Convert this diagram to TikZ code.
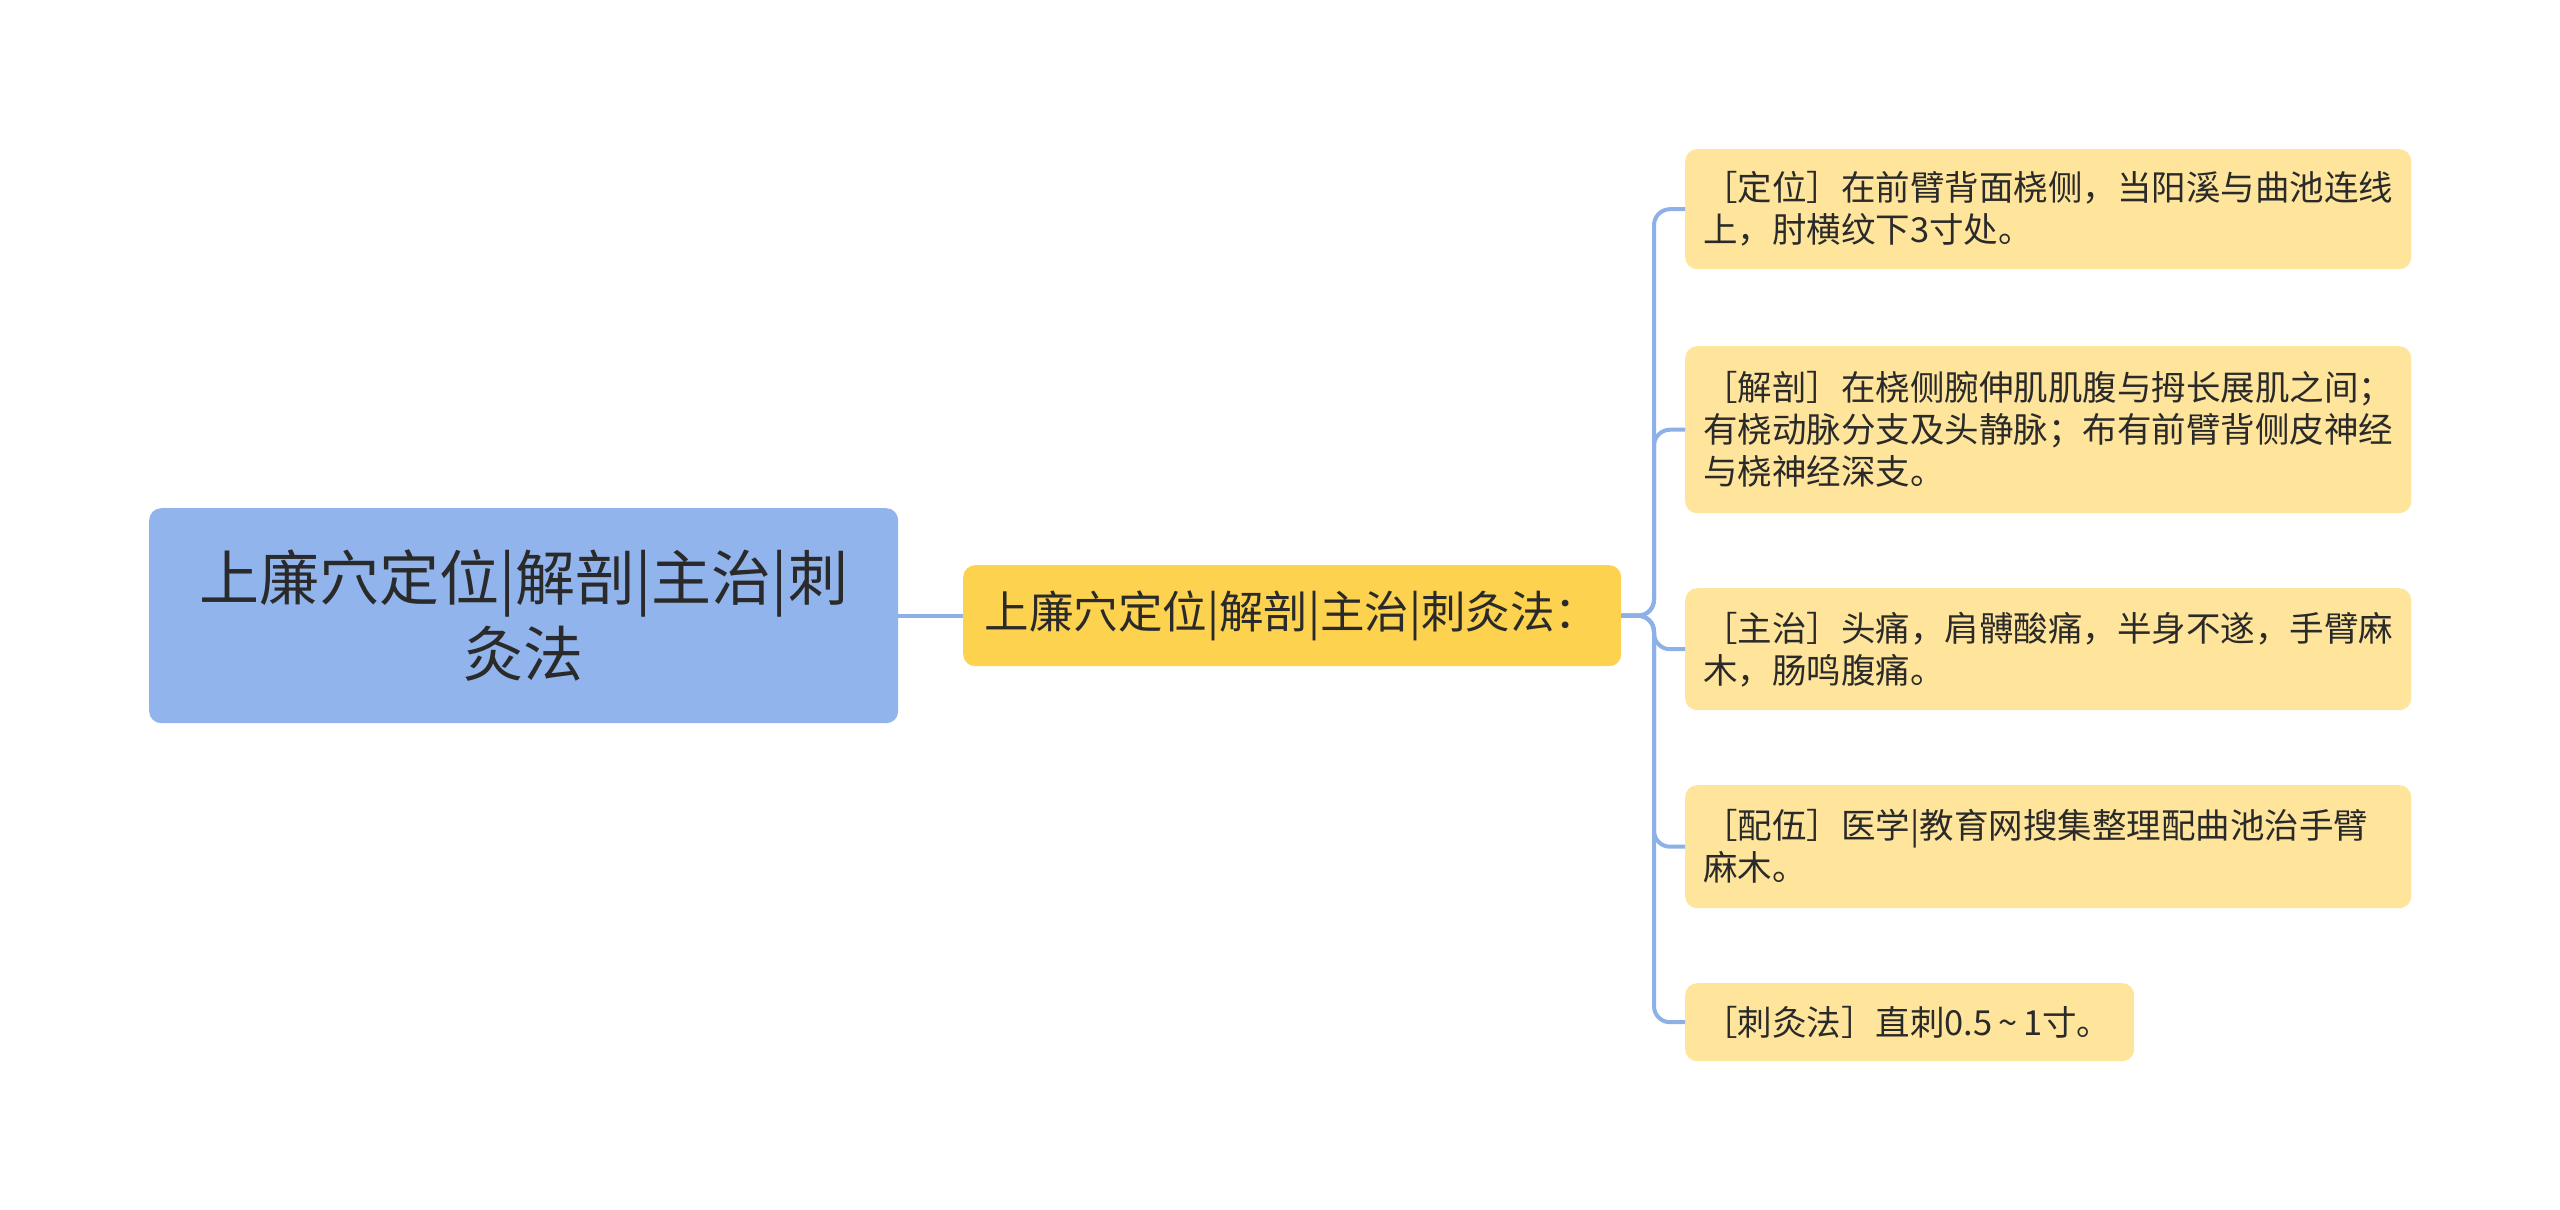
\documentclass[tikz,border=0pt]{standalone}
\usepackage{fontspec}
\setmainfont{Noto Sans CJK SC}
\definecolor{rootfill}{HTML}{91B4EC}
\definecolor{midfill}{HTML}{FDD24F}
\definecolor{leaffill}{HTML}{FEE59B}
\definecolor{linkcol}{HTML}{8DB1E6}
\definecolor{txt}{HTML}{2A2A2A}
\begin{document}
\begin{tikzpicture}[x=1pt,y=-1pt,
  rootbox/.style={fill=rootfill, rounded corners=12pt, anchor=north west, align=center,
    text=txt, font=\fontsize{60}{76}\selectfont, inner sep=0pt},
  midbox/.style={fill=midfill, rounded corners=12pt, anchor=north west, align=center,
    text=txt, font=\fontsize{44.5}{52}\selectfont, inner sep=0pt},
  leafbox/.style={fill=leaffill, rounded corners=12pt, anchor=north west, align=left,
    text=txt, font=\fontsize{34.5}{42}\selectfont, inner xsep=18pt, inner ysep=0pt},
  conn/.style={draw=linkcol, line width=4pt, rounded corners=16pt}]
\useasboundingbox (0,0) rectangle (2560,1210);
\fill[white] (0,0) rectangle (2560,1210);

\node[rootbox, minimum width=749pt, minimum height=215pt] (root) at (149,508)
  {上廉穴定位|解剖|主治|刺\\灸法};
\node[midbox, minimum width=658pt, minimum height=101pt] (mid) at (963,565)
  {上廉穴定位|解剖|主治|刺灸法：};

\node[leafbox, text width=690pt, minimum height=120pt] (c1) at (1685,149)
  {［定位］在前臂背面桡侧，当阳溪与曲池连线\\上，肘横纹下3寸处。};
\node[leafbox, text width=690pt, minimum height=167pt] (c2) at (1685,346)
  {［解剖］在桡侧腕伸肌肌腹与拇长展肌之间；\\有桡动脉分支及头静脉；布有前臂背侧皮神经\\与桡神经深支。};
\node[leafbox, text width=690pt, minimum height=122pt] (c3) at (1685,588)
  {［主治］头痛，肩髆酸痛，半身不遂，手臂麻\\木，肠鸣腹痛。};
\node[leafbox, text width=690pt, minimum height=123pt] (c4) at (1685,785)
  {［配伍］医学|教育网搜集整理配曲池治手臂\\麻木。};
\node[leafbox, text width=413pt, minimum height=78pt] (c5) at (1685,983)
  {［刺灸法］直刺0.5\,\textasciitilde\,1寸。};

\coordinate (tk) at (1654,0);
\draw[conn] (root.east) -- (mid.west);
\foreach \c in {c1,c2,c3,c4,c5}{
  \draw[conn] (mid.east) -- (mid.east -| tk) |- (\c.west);
}
\end{tikzpicture}
\end{document}
